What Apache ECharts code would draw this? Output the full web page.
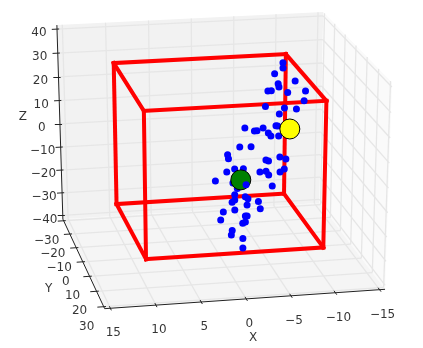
<!DOCTYPE html>
<html>
<head>
<meta charset="utf-8">
<style>html,body{margin:0;padding:0;background:#fff}#main{width:423px;height:348px}</style>
<script src="https://cdn.jsdelivr.net/npm/echarts@6/dist/echarts.min.js"></script>
</head>
<body>
<div id="main"></div>
<script>
// axis ticks
var xTicks = [15, 10, 5, 0, -5, -10, -15];
var yTicks = [-30, -20, -10, 0, 10, 20, 30];
var zTicks = [40, 30, 20, 10, 0, -10, -20, -30, -40];

// red box, in data units
var boxX = [10, -10];
var boxY = [-20.5, 19.3];
var boxZ = [-30.1, 29.8];

// blue points (depth can't be read from one view, so Y is an estimate)
var ptsX = [-9.5,-9.4,-8.2,-8.4,-8.5,-10.5,-7.1,-7.5,-9.3,-11.5,-11.0,-6.5,-8.6,-10.0,-7.9,-7.3,-7.5,
	-3.7,-4.7,-5.0,-5.7,-6.2,-6.5,-7.4,-2.7,-4.0,-1.1,-1.2,-5.4,-5.7,-7.0,-7.7,-1.6,-2.6,
	-0.7,-4.5,-5.2,-5.4,-6.7,-7.3,0.8,-1.2,-5.6,-1.5,-1.1,-1.0,-0.7,-2.3,-2.5,-2.3,-3.7,
	-3.7,-0.8,0.5,1.0,-1.9,-2.1,-1.8,-1.5,-0.1,0.1,-1.1,-1.0];
var ptsY = [-19,-18,-16,-14,-14,-15,-13,-13,-12,-13,-10,-10,-9,-9,-8,-6,-6,
	-6,-5,-5,-5,-4,-4,-4,-2,-2,0,0,1,1,1,1,3,3,
	3,3,3,4,4,3,5,5,6,7,8,9,9,8,9,10,9,
	11,11,11,13,12,12,13,13,15,16,17,18];
var ptsZ = [27.0,25.3,24.1,20.8,19.4,21.1,18.5,18.5,17.9,17.7,15.1,13.6,13.1,12.4,11.2,7.4,7.3,
	7.3,6.3,6.3,7.4,5.7,4.4,4.2,1.6,1.4,-0.2,-1.9,-2.8,-3.3,-1.9,-2.9,-4.6,-4.8,
	-5.7,-6.5,-6.4,-7.4,-6.5,-5.9,-8.0,-9.3,-11.0,-10.6,-12.5,-14.1,-15.0,-13.6,-13.9,-15.9,-15.4,
	-17.3,-17.1,-17.6,-19.7,-19.3,-19.3,-21.2,-21.6,-23.2,-24.4,-25.6,-28.9];
// the one blue point that sits in front of the green ball
var frontX = [-2.6], frontY = [6], frontZ = [-9.8];
var yellowPt = [-8.8, -5, 6.3];
var greenPt = [-2.1, 5, -8.2];

// pane edges sit a bit outside the axis limits, same as mplot3d
var xe = 15.625, ye = 31.25, ze = 41.667;

//3d -> picture, same maths as mplot3d (dist=10) with values fitted to the picture
var view = {az: 78.64, el: 22.22, sx: 2675, sy: 2075, ox: 218.0, oy: 154.8};
var project = (function () {
	var a = view.az * Math.PI / 180, e = view.el * Math.PI / 180;
	var n = [Math.cos(a) * Math.cos(e), Math.sin(a) * Math.cos(e), Math.sin(e)];
	var l = Math.hypot(n[0], n[1]);
	var u = [-n[1] / l, n[0] / l, 0];
	var v = [n[1] * u[2] - n[2] * u[1], n[2] * u[0] - n[0] * u[2], n[0] * u[1] - n[1] * u[0]];
	return function (x, y, z) {
		var d = [x / 30, y / 60, z / 80];
		var U = u[0] * d[0] + u[1] * d[1];
		var V = v[0] * d[0] + v[1] * d[1] + v[2] * d[2];
		var W = n[0] * d[0] + n[1] * d[1] + n[2] * d[2];
		return [view.ox + view.sx * U / (10 - W), view.oy - view.sy * V / (10 - W)];
	};
})();

function seg(a, b) {
	return {coords: [project(a[0], a[1], a[2]), project(b[0], b[1], b[2])]};
}
function fmt(v) {
	return String(v).replace('-', '\u2212');
}

// grid lines on the three panes
var gridSegs = [];
xTicks.forEach(function (t) {
	gridSegs.push(seg([t, -ye, -ze], [t, -ye, ze]));
	gridSegs.push(seg([t, -ye, -ze], [t, ye, -ze]));
});
yTicks.forEach(function (t) {
	gridSegs.push(seg([-xe, t, -ze], [-xe, t, ze]));
	gridSegs.push(seg([xe, t, -ze], [-xe, t, -ze]));
});
zTicks.forEach(function (t) {
	gridSegs.push(seg([xe, -ye, t], [-xe, -ye, t]));
	gridSegs.push(seg([-xe, -ye, t], [-xe, ye, t]));
});

// axis lines and tick marks
var axisSegs = [
	seg([xe, -ye, -ze], [xe, -ye, ze]),
	seg([xe, -ye, -ze], [xe, ye, -ze]),
	seg([xe, ye, -ze], [-xe, ye, -ze])
];
xTicks.forEach(function (t) {
	axisSegs.push(seg([t, ye - 1.3, -ze], [t, ye + 1.3, -ze]));
});
yTicks.forEach(function (t) {
	axisSegs.push(seg([xe - 0.25, t, -ze], [xe + 0.7, t, -ze]));
});
zTicks.forEach(function (t) {
	axisSegs.push(seg([xe - 0.25, -ye, t], [xe + 0.6, -ye, t]));
});

// red box
var x0 = boxX[0], x1 = boxX[1], y0 = boxY[0], y1 = boxY[1], z0 = boxZ[0], z1 = boxZ[1];
var boxSegs = [
	[[x0, y0, z1], [x1, y0, z1]], [[x1, y0, z1], [x1, y1, z1]], [[x1, y1, z1], [x0, y1, z1]], [[x0, y1, z1], [x0, y0, z1]],
	[[x0, y0, z0], [x1, y0, z0]], [[x1, y0, z0], [x1, y1, z0]], [[x1, y1, z0], [x0, y1, z0]], [[x0, y1, z0], [x0, y0, z0]],
	[[x0, y0, z0], [x0, y0, z1]], [[x1, y0, z0], [x1, y0, z1]], [[x1, y1, z0], [x1, y1, z1]], [[x0, y1, z0], [x0, y1, z1]]
].map(function (s) {
	return seg(s[0], s[1]);
});

var panes = [
	{color: '#f2f2f2', pts: [[xe, -ye, -ze], [-xe, -ye, -ze], [-xe, -ye, ze], [xe, -ye, ze]]},
	{color: '#fafafa', pts: [[-xe, -ye, -ze], [-xe, ye, -ze], [-xe, ye, ze], [-xe, -ye, ze]]},
	{color: '#f5f5f5', pts: [[xe, -ye, -ze], [-xe, -ye, -ze], [-xe, ye, -ze], [xe, ye, -ze]]}
];

function pointsOf(xs, ys, zs) {
	return xs.map(function (x, i) {
		return project(x, ys[i], zs[i]);
	});
}
function textSeries(data, offset) {
	return {
		type: 'scatter',
		symbolSize: 0,
		silent: true,
		z: 10,
		data: data,
		label: {
			show: true,
			position: 'inside',
			offset: offset,
			color: '#000',
			fontFamily: 'DejaVu Sans',
			fontSize: 12,
			formatter: function (p) {
				return p.value[2];
			}
		}
	};
}
function tickText(ticks, fn) {
	return ticks.map(function (t) {
		return fn(t).concat(fmt(t));
	});
}

var chart = echarts.init(document.getElementById('main'));
chart.setOption({
	animation: false,
	grid: {left: 0, right: 0, top: 0, bottom: 0},
	xAxis: {type: 'value', min: 0, max: 423, show: false},
	yAxis: {type: 'value', min: 0, max: 348, inverse: true, show: false},
	series: [
		{
			type: 'custom',
			silent: true,
			z: 1,
			data: panes.map(function (p, i) { return [i]; }),
			renderItem: function (params, api) {
				var pane = panes[params.dataIndex];
				return {
					type: 'polygon',
					shape: {
						points: pane.pts.map(function (c) {
							return api.coord(project(c[0], c[1], c[2]));
						})
					},
					style: {fill: pane.color}
				};
			},
			encode: {x: 0}
		},
		{type: 'lines', coordinateSystem: 'cartesian2d', silent: true, z: 2, data: gridSegs,
			lineStyle: {color: '#e6e6e6', width: 1.3, opacity: 1}},
		{type: 'lines', coordinateSystem: 'cartesian2d', silent: true, z: 3, data: axisSegs,
			lineStyle: {color: '#222', width: 1, opacity: 1}},
		{type: 'lines', coordinateSystem: 'cartesian2d', silent: true, z: 4, data: boxSegs,
			lineStyle: {color: '#ff0000', width: 4, opacity: 1, cap: 'square'}},
		{type: 'scatter', silent: true, z: 5, symbolSize: 7, itemStyle: {color: '#0000ff', opacity: 1},
			data: pointsOf(ptsX, ptsY, ptsZ)},
		{type: 'scatter', silent: true, z: 6, symbolSize: 20,
			itemStyle: {color: '#ffff00', borderColor: '#000', borderWidth: 1, opacity: 1},
			data: [project(yellowPt[0], yellowPt[1], yellowPt[2])]},
		{type: 'scatter', silent: true, z: 6, symbolSize: 20,
			itemStyle: {color: '#008000', borderColor: '#000', borderWidth: 1, opacity: 1},
			data: [project(greenPt[0], greenPt[1], greenPt[2])]},
		{type: 'scatter', silent: true, z: 7, symbolSize: 7, itemStyle: {color: '#0000ff', opacity: 1},
			data: pointsOf(frontX, frontY, frontZ)},
		textSeries(tickText(xTicks, function (t) { return project(t, ye, -ze); }), [3, 25]),
		textSeries(tickText(yTicks, function (t) { return project(xe, t, -ze); }), [-17, 20]),
		textSeries(tickText(zTicks, function (t) { return project(xe, -ye, t); }), [-18, 4]),
		textSeries([project(0, ye, -ze).concat('X')], [7, 39]),
		textSeries([project(xe, 0, -ze).concat('Y')], [-34, 27]),
		textSeries([project(xe, -ye, 0).concat('Z')], [-37, -7])
	]
});
</script>
</body>
</html>
